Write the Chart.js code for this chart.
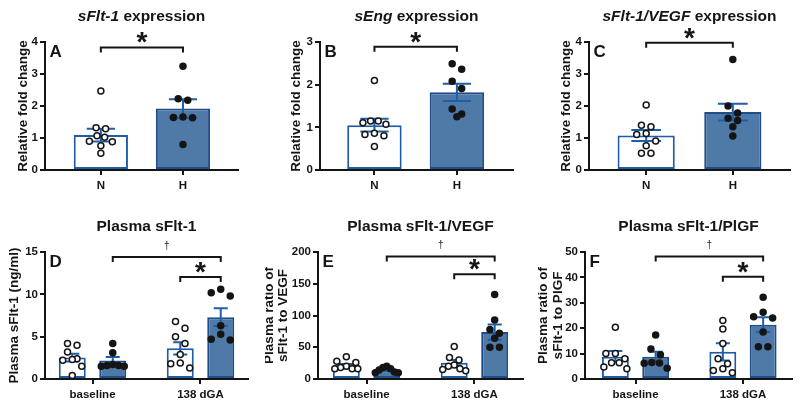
<!DOCTYPE html>
<html>
<head>
<meta charset="utf-8">
<script src="https://cdn.jsdelivr.net/npm/chart.js@4.4.1/dist/chart.umd.min.js"></script>
<style>
  html, body { margin: 0; padding: 0; background: #fff; }
  body { position: relative; width: 800px; height: 407px; overflow: hidden; }
  canvas { position: absolute; }
</style>
</head>
<body>
<canvas id="pA"></canvas>
<canvas id="pB"></canvas>
<canvas id="pC"></canvas>
<canvas id="pD"></canvas>
<canvas id="pE"></canvas>
<canvas id="pF"></canvas>
<script>
// ---- data ----
const topGroups = ['N', 'H'];
const bottomGroups = ['baseline', '138 dGA'];

// A: sFlt-1 expression
const sfltMean = [1.09, 1.92];
const sfltSem = [0.2, 0.29];
const sfltN = [2.47, 1.32, 1.29, 1.07, 1.02, 0.9, 0.88, 0.76, 0.52];
const sfltH = [3.24, 2.23, 2.18, 1.66, 1.64, 1.63, 0.8];

// B: sEng expression
const sengMean = [1.05, 1.82];
const sengSem = [0.15, 0.2];
const sengN = [2.1, 1.15, 1.15, 1.11, 1.07, 0.86, 0.83, 0.8, 0.55];
const sengH = [2.49, 2.36, 2.08, 1.91, 1.43, 1.31, 1.25];

// C: sFlt-1/VEGF expression
const ratioMean = [1.08, 1.81];
const ratioSem = [0.17, 0.26];
const ratioN = [2.03, 1.4, 1.35, 1.14, 1.11, 0.91, 0.76, 0.52, 0.52];
const ratioH = [3.45, 2.0, 1.78, 1.62, 1.55, 1.35, 1.06];

// D: plasma sFlt-1 (ng/ml)
const plasmaMeanN = [2.53, 3.62];
const plasmaMeanH = [2.18, 7.3];
const plasmaSemN = [0.45, 0.72];
const plasmaSemH = [0.42, 1.05];
const plasmaN = [[4.2, 4.0, 3.2, 2.4, 2.3, 2.2, 1.5, 0.4], [6.8, 6.0, 5.0, 4.2, 2.9, 1.9, 1.8, 1.3]];
const plasmaH = [[4.2, 3.1, 1.7, 1.6, 1.6, 1.5, 1.5], [10.6, 10.2, 9.8, 6.3, 5.3, 4.7, 4.6]];

// E: plasma sFlt-1/VEGF
const vegfMeanN = [21.5, 25.5];
const vegfMeanH = [13.5, 74];
const vegfSemN = [2.3, 4.4];
const vegfSemH = [1.4, 12];
const vegfN = [[35, 28, 26, 20, 18, 16, 16, 16], [51, 34, 30, 22, 20, 16, 15, 13]];
const vegfH = [[20, 18, 16, 14, 11, 10, 10], [133, 93, 78, 72, 64, 50, 50]];

// F: plasma sFlt-1/PlGF
const plgfMeanN = [8.8, 10.7];
const plgfMeanH = [8.8, 21.4];
const plgfSemN = [2.2, 3.4];
const plgfSemH = [1.9, 2.9];
const plgfN = [[20.4, 10, 10, 8, 6.4, 6.4, 4.7, 4.0], [23.0, 19.7, 14.0, 8.0, 6.0, 4.0, 3.3, 2.5]];
const plgfH = [[17.3, 11.8, 9.5, 6.5, 6.3, 6.2, 4.2], [32.2, 26.3, 24.5, 24.0, 18.5, 12.7, 12.7]];

// ---- styling ----
const FONT = '"Liberation Sans", Arial, sans-serif';
const INK = '#151515';
const FILL_H = '#4f7aa8';
const EDGE_N = '#1f5ba6';
const EDGE_H = '#1d4d8b';
const ERR = '#1f5ea8';
Chart.defaults.font.family = FONT;
Chart.defaults.color = INK;

const GROUP_SHIFT = 0.75 / 4; // bar centre offset inside a group (categoryPercentage / 4)

// column-scatter layout: dots at similar heights share a row, highest in the middle
function swarm(values, centre, pxX, pxY) {
  const d = 9.5, maxSpread = 23;
  const sorted = values.slice().sort((a, b) => b - a);
  const rows = [];
  sorted.forEach(v => {
    const last = rows[rows.length - 1];
    if (last && (last.top - v) * pxY < d * 0.8) last.vals.push(v);
    else rows.push({ top: v, vals: [v] });
  });
  const pts = [];
  rows.forEach(r => {
    const k = r.vals.length;
    const gap = k > 1 ? Math.min(d, maxSpread / (k - 1)) : 0;
    const slots = r.vals.map((_, j) => (j - (k - 1) / 2) * gap);
    slots.sort((a, b) => Math.abs(a) - Math.abs(b) || a - b);
    r.vals.forEach((v, j) => pts.push({ x: centre + slots[j] / pxX, y: v }));
  });
  return pts;
}

function barSet(points, errors, fill, edge, grouped) {
  return {
    type: 'bar', data: points, errors, order: 2,
    backgroundColor: fill, borderColor: edge, borderWidth: 2, borderSkipped: false,
    grouped, categoryPercentage: grouped ? 0.75 : 1, barPercentage: grouped ? 0.667 : 0.66
  };
}

function dotSet(points, filled) {
  return {
    type: 'scatter', data: points, order: 1,
    pointRadius: 3, pointBorderWidth: 1.5,
    pointBackgroundColor: filled ? INK : '#fff', pointBorderColor: INK
  };
}

function scaleOf(p) {
  const [pl, pt, pr, pb] = p.plot;
  return { pxX: (pr - pl) / (p.xRange[1] - p.xRange[0]), pxY: (pb - pt) / p.yMax };
}

function topSets(p, mean, sem, dotsN, dotsH) {
  const { pxX, pxY } = scaleOf(p);
  return [
    barSet([{ x: 0, y: mean[0] }], [sem[0]], '#fff', EDGE_N, false),
    barSet([{ x: 1, y: mean[1] }], [sem[1]], FILL_H, EDGE_H, false),
    dotSet(swarm(dotsN, 0, pxX, pxY), false),
    dotSet(swarm(dotsH, 1, pxX, pxY), true)
  ];
}

function bottomSets(p, meanN, meanH, semN, semH, dotsN, dotsH) {
  const { pxX, pxY } = scaleOf(p);
  const sets = [
    barSet(meanN.map((m, i) => ({ x: i, y: m })), semN, '#fff', EDGE_N, true),
    barSet(meanH.map((m, i) => ({ x: i, y: m })), semH, FILL_H, EDGE_H, true)
  ];
  dotsN.forEach((vals, i) => sets.push(dotSet(swarm(vals, i - GROUP_SHIFT, pxX, pxY), false)));
  dotsH.forEach((vals, i) => sets.push(dotSet(swarm(vals, i + GROUP_SHIFT, pxX, pxY), true)));
  return sets;
}

const errorBars = {
  id: 'errorBars',
  afterDatasetDraw(chart, args) {
    const ds = chart.data.datasets[args.index];
    if (!ds.errors) return;
    const y = chart.scales.y, ctx = chart.ctx;
    ctx.save();
    ctx.strokeStyle = ERR;
    ctx.lineWidth = 2;
    args.meta.data.forEach((bar, i) => {
      const m = ds.data[i].y, e = ds.errors[i];
      const top = y.getPixelForValue(m + e), bot = y.getPixelForValue(m - e);
      const half = bar.width * 0.26;
      ctx.beginPath();
      ctx.moveTo(bar.x, top); ctx.lineTo(bar.x, bot);
      ctx.moveTo(bar.x - half, top); ctx.lineTo(bar.x + half, top);
      ctx.moveTo(bar.x - half, bot); ctx.lineTo(bar.x + half, bot);
      ctx.stroke();
    });
    ctx.restore();
  }
};

function decor(p) {
  return {
    id: 'decor',
    afterDraw(chart) {
      const { ctx, chartArea: a, scales: { y } } = chart;
      ctx.save();
      ctx.fillStyle = INK;
      ctx.strokeStyle = INK;
      ctx.textBaseline = 'alphabetic';

      // panel title, mixed italic / upright
      const fontFor = it => (it ? 'italic ' : '') + 'bold 15.5px ' + FONT;
      let total = 0;
      p.title.forEach(([t, it]) => { ctx.font = fontFor(it); total += ctx.measureText(t).width; });
      let tx = (a.left + a.right) / 2 - total / 2;
      ctx.textAlign = 'left';
      p.title.forEach(([t, it]) => {
        ctx.font = fontFor(it);
        ctx.fillText(t, tx, a.top - 21);
        tx += ctx.measureText(t).width;
      });

      // panel letter
      ctx.font = 'bold 17px ' + FONT;
      ctx.fillText(p.letter, a.left + 4.5, a.top + 14.5);

      // significance brackets
      ctx.lineWidth = 2;
      ctx.textAlign = 'center';
      p.brackets.forEach(b => {
        const x1 = chart.getDatasetMeta(b.from[0]).data[b.from[1]].x;
        const x2 = chart.getDatasetMeta(b.to[0]).data[b.to[1]].x;
        const yb = y.getPixelForValue(b.level);
        ctx.beginPath();
        ctx.moveTo(x1, yb + 5); ctx.lineTo(x1, yb); ctx.lineTo(x2, yb); ctx.lineTo(x2, yb + 5);
        ctx.stroke();
        if (b.mark === '*') {
          ctx.font = 'bold 28px ' + FONT;
          ctx.fillText('*', (x1 + x2) / 2, yb + 4);
        } else {
          ctx.font = '10px ' + FONT;
          ctx.fillStyle = '#222';
          ctx.fillText(b.mark, (x1 + x2) / 2, yb - 8.5);
          ctx.fillStyle = INK;
        }
      });
      ctx.restore();
    }
  };
}

const panels = [
  { id: 'pA', box: [0, 0, 265, 200], plot: [45, 42, 238, 170], xRange: [-0.68, 1.67], yMax: 4, yStep: 1,
    labels: topGroups, title: [['sFlt-1', true], [' expression', false]], letter: 'A',
    yTitle: 'Relative fold change', yTitlePad: 16,
    brackets: [{ from: [0, 0], to: [1, 0], level: 3.83, mark: '*' }],
    build: p => topSets(p, sfltMean, sfltSem, sfltN, sfltH) },
  { id: 'pB', box: [265, 0, 530, 200], plot: [320, 42, 513, 170], xRange: [-0.66, 1.68], yMax: 3, yStep: 1,
    labels: topGroups, title: [['sEng', true], [' expression', false]], letter: 'B',
    yTitle: 'Relative fold change', yTitlePad: 23.5,
    brackets: [{ from: [0, 0], to: [1, 0], level: 2.89, mark: '*' }],
    build: p => topSets(p, sengMean, sengSem, sengN, sengH) },
  { id: 'pC', box: [530, 0, 800, 200], plot: [589, 42, 790, 170], xRange: [-0.66, 1.66], yMax: 4, yStep: 1,
    labels: topGroups, title: [['sFlt-1/VEGF', true], [' expression', false]], letter: 'C',
    yTitle: 'Relative fold change', yTitlePad: 29,
    brackets: [{ from: [0, 0], to: [1, 0], level: 3.98, mark: '*' }],
    build: p => topSets(p, ratioMean, ratioSem, ratioN, ratioH) },
  { id: 'pD', box: [0, 200, 265, 407], plot: [45, 252, 248, 379], xRange: [-0.44, 1.44], yMax: 15, yStep: 5,
    labels: bottomGroups, title: [['Plasma sFlt-1', false]], letter: 'D',
    yTitle: 'Plasma sFlt-1 (ng/ml)', yTitlePad: 7,
    brackets: [{ from: [1, 0], to: [1, 1], level: 14.4, mark: '\u2020' },
               { from: [0, 1], to: [1, 1], level: 12.05, mark: '*' }],
    build: p => bottomSets(p, plasmaMeanN, plasmaMeanH, plasmaSemN, plasmaSemH, plasmaN, plasmaH) },
  { id: 'pE', box: [265, 200, 530, 407], plot: [318, 252, 523, 379], xRange: [-0.45, 1.45], yMax: 200, yStep: 50,
    labels: bottomGroups, title: [['Plasma sFlt-1/VEGF', false]], letter: 'E',
    yTitle: ['Plasma ratio of', 'sFlt-1 to VEGF'], yTitlePad: -3.5,
    brackets: [{ from: [1, 0], to: [1, 1], level: 193, mark: '\u2020' },
               { from: [0, 1], to: [1, 1], level: 165, mark: '*' }],
    build: p => bottomSets(p, vegfMeanN, vegfMeanH, vegfSemN, vegfSemH, vegfN, vegfH) },
  { id: 'pF', box: [530, 200, 800, 407], plot: [585, 252, 792, 379], xRange: [-0.47, 1.456], yMax: 50, yStep: 10,
    labels: bottomGroups, title: [['Plasma sFlt-1/PlGF', false]], letter: 'F',
    yTitle: ['Plasma ratio of', 'sFlt-1 to PlGF'], yTitlePad: 6,
    brackets: [{ from: [1, 0], to: [1, 1], level: 48.2, mark: '\u2020' },
               { from: [0, 1], to: [1, 1], level: 40.3, mark: '*' }],
    build: p => bottomSets(p, plgfMeanN, plgfMeanH, plgfSemN, plgfSemH, plgfN, plgfH) }
];

const tickFont = { size: 11.5, weight: 'bold' };

panels.forEach(p => {
  const [cl, ct, cr, cb] = p.box;
  const [pl, pt, pr, pb] = p.plot;
  const canvas = document.getElementById(p.id);
  canvas.width = cr - cl;
  canvas.height = cb - ct;
  canvas.style.left = cl + 'px';
  canvas.style.top = ct + 'px';

  new Chart(canvas, {
    type: 'bar',
    data: { datasets: p.build(p) },
    options: {
      responsive: false,
      animation: false,
      devicePixelRatio: 1,
      layout: { padding: { left: 0, top: pt - ct, right: cr - pr, bottom: 0 } },
      plugins: { legend: { display: false }, tooltip: { enabled: false } },
      scales: {
        x: {
          type: 'linear', min: p.xRange[0], max: p.xRange[1], offset: false,
          afterBuildTicks: s => { s.ticks = p.labels.map((_, i) => ({ value: i })); },
          afterFit: s => { s.height = cb - pb; },
          ticks: { callback: v => p.labels[v], font: tickFont, color: INK, padding: 4, maxRotation: 0, autoSkip: false },
          grid: { display: true, drawOnChartArea: false, drawTicks: true, tickLength: 5, lineWidth: 2, color: INK, offset: false },
          border: { display: true, color: INK, width: 2 }
        },
        y: {
          min: 0, max: p.yMax,
          afterFit: s => { s.width = pl - cl; },
          ticks: { stepSize: p.yStep, font: tickFont, color: INK, padding: 2 },
          grid: { drawOnChartArea: false, drawTicks: true, tickLength: 5, lineWidth: 2, color: INK },
          border: { display: true, color: INK, width: 2 },
          title: {
            display: true, text: p.yTitle, color: INK,
            font: { size: 13.5, weight: 'bold', lineHeight: 1.1 },
            padding: { top: p.yTitlePad, bottom: 0 }
          }
        }
      }
    },
    plugins: [errorBars, decor(p)]
  });
});
</script>
</body>
</html>
